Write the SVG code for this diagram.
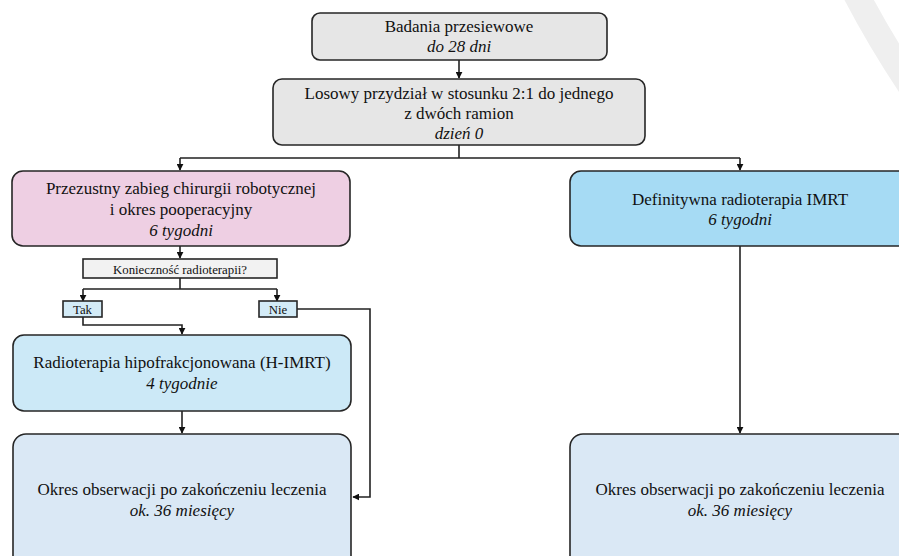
<svg xmlns="http://www.w3.org/2000/svg" width="899" height="556" viewBox="0 0 899 556">
<defs>
<style>
.box{stroke:#262626;stroke-width:1.6}
.t{font-family:"Liberation Serif","Times New Roman","DejaVu Serif",serif;font-size:17px;fill:#111;text-anchor:middle}
.i{font-style:italic}
.s{font-size:12.8px}
.c{fill:none;stroke:#222;stroke-width:1.6}
</style>
<marker id="ah" viewBox="0 0 10 10" refX="9" refY="5" markerWidth="7" markerHeight="7" markerUnits="userSpaceOnUse" orient="auto">
<path d="M0,0 L10,5 L0,10 z" fill="#111"/>
</marker>
</defs>
<rect width="899" height="556" fill="#fff"/>
<path d="M856,-6 Q880,40 910,85" fill="none" stroke="#efefef" stroke-width="26"/>

<g id="connectors">
<path class="c" d="M459,60 V78" marker-end="url(#ah)"/>
<path class="c" d="M459,145 V158 M180,158 H740"/>
<path class="c" d="M180,158 V170" marker-end="url(#ah)"/>
<path class="c" d="M740,158 V170" marker-end="url(#ah)"/>
<path class="c" d="M180,246 V258" marker-end="url(#ah)"/>
<path class="c" d="M180,278 V289 M83,289 H277"/>
<path class="c" d="M83,289 V301" marker-end="url(#ah)"/>
<path class="c" d="M277,289 V301" marker-end="url(#ah)"/>
<path class="c" d="M83,317 V325 H182 V334" marker-end="url(#ah)"/>
<path class="c" d="M297,309 H370 V497 H353" marker-end="url(#ah)"/>
<path class="c" d="M182,411 V433" marker-end="url(#ah)"/>
<path class="c" d="M740,246 V433" marker-end="url(#ah)"/>
</g>

<g id="badania">
<rect class="box" x="312" y="13" width="295" height="47" rx="8" fill="#e6e6e6"/>
<text class="t" x="459" y="32">Badania przesiewowe</text>
<text class="t i" x="459" y="52">do 28 dni</text>
</g>
<g id="losowy">
<rect class="box" x="273" y="79" width="372" height="66" rx="9" fill="#e6e6e6"/>
<text class="t" x="459" y="99">Losowy przydział w stosunku 2:1 do jednego</text>
<text class="t" x="459" y="119">z dwóch ramion</text>
<text class="t i" x="459" y="139">dzień 0</text>
</g>
<g id="chirurgia">
<rect class="box" x="12" y="171" width="338" height="75" rx="11" fill="#eecfe3"/>
<text class="t" x="181" y="194">Przezustny zabieg chirurgii robotycznej</text>
<text class="t" x="181" y="215">i okres pooperacyjny</text>
<text class="t i" x="181" y="236">6 tygodni</text>
</g>
<g id="pytanie">
<rect class="box" x="83" y="259" width="194" height="19" fill="#f2f2f2" stroke-width="1.4"/>
<text class="t s" x="180" y="273.5">Konieczność radioterapii?</text>
</g>
<g id="tak">
<rect class="box" x="63" y="301" width="39" height="16" fill="#d3ebf7" stroke-width="1.4"/>
<text class="t s" x="82.5" y="313.5">Tak</text>
</g>
<g id="nie">
<rect class="box" x="259" y="301" width="38" height="16" fill="#d3ebf7" stroke-width="1.4"/>
<text class="t s" x="278" y="313.5">Nie</text>
</g>
<g id="himrt">
<rect class="box" x="13" y="335" width="338" height="76" rx="11" fill="#cce9f7"/>
<text class="t" x="182" y="368">Radioterapia hipofrakcjonowana (H-IMRT)</text>
<text class="t i" x="182" y="389">4 tygodnie</text>
</g>
<g id="obserwacja-l">
<rect class="box" x="13" y="434" width="338" height="140" rx="13" fill="#dae8f5"/>
<text class="t" x="182" y="495">Okres obserwacji po zakończeniu leczenia</text>
<text class="t i" x="182" y="516">ok. 36 miesięcy</text>
</g>
<g id="definitywna">
<rect class="box" x="570" y="171" width="345" height="75" rx="11" fill="#a6dbf4"/>
<text class="t" x="740" y="205">Definitywna radioterapia IMRT</text>
<text class="t i" x="740" y="225">6 tygodni</text>
</g>
<g id="obserwacja-r">
<rect class="box" x="570" y="434" width="345" height="140" rx="13" fill="#dae8f5"/>
<text class="t" x="740" y="495">Okres obserwacji po zakończeniu leczenia</text>
<text class="t i" x="740" y="516">ok. 36 miesięcy</text>
</g>
</svg>
